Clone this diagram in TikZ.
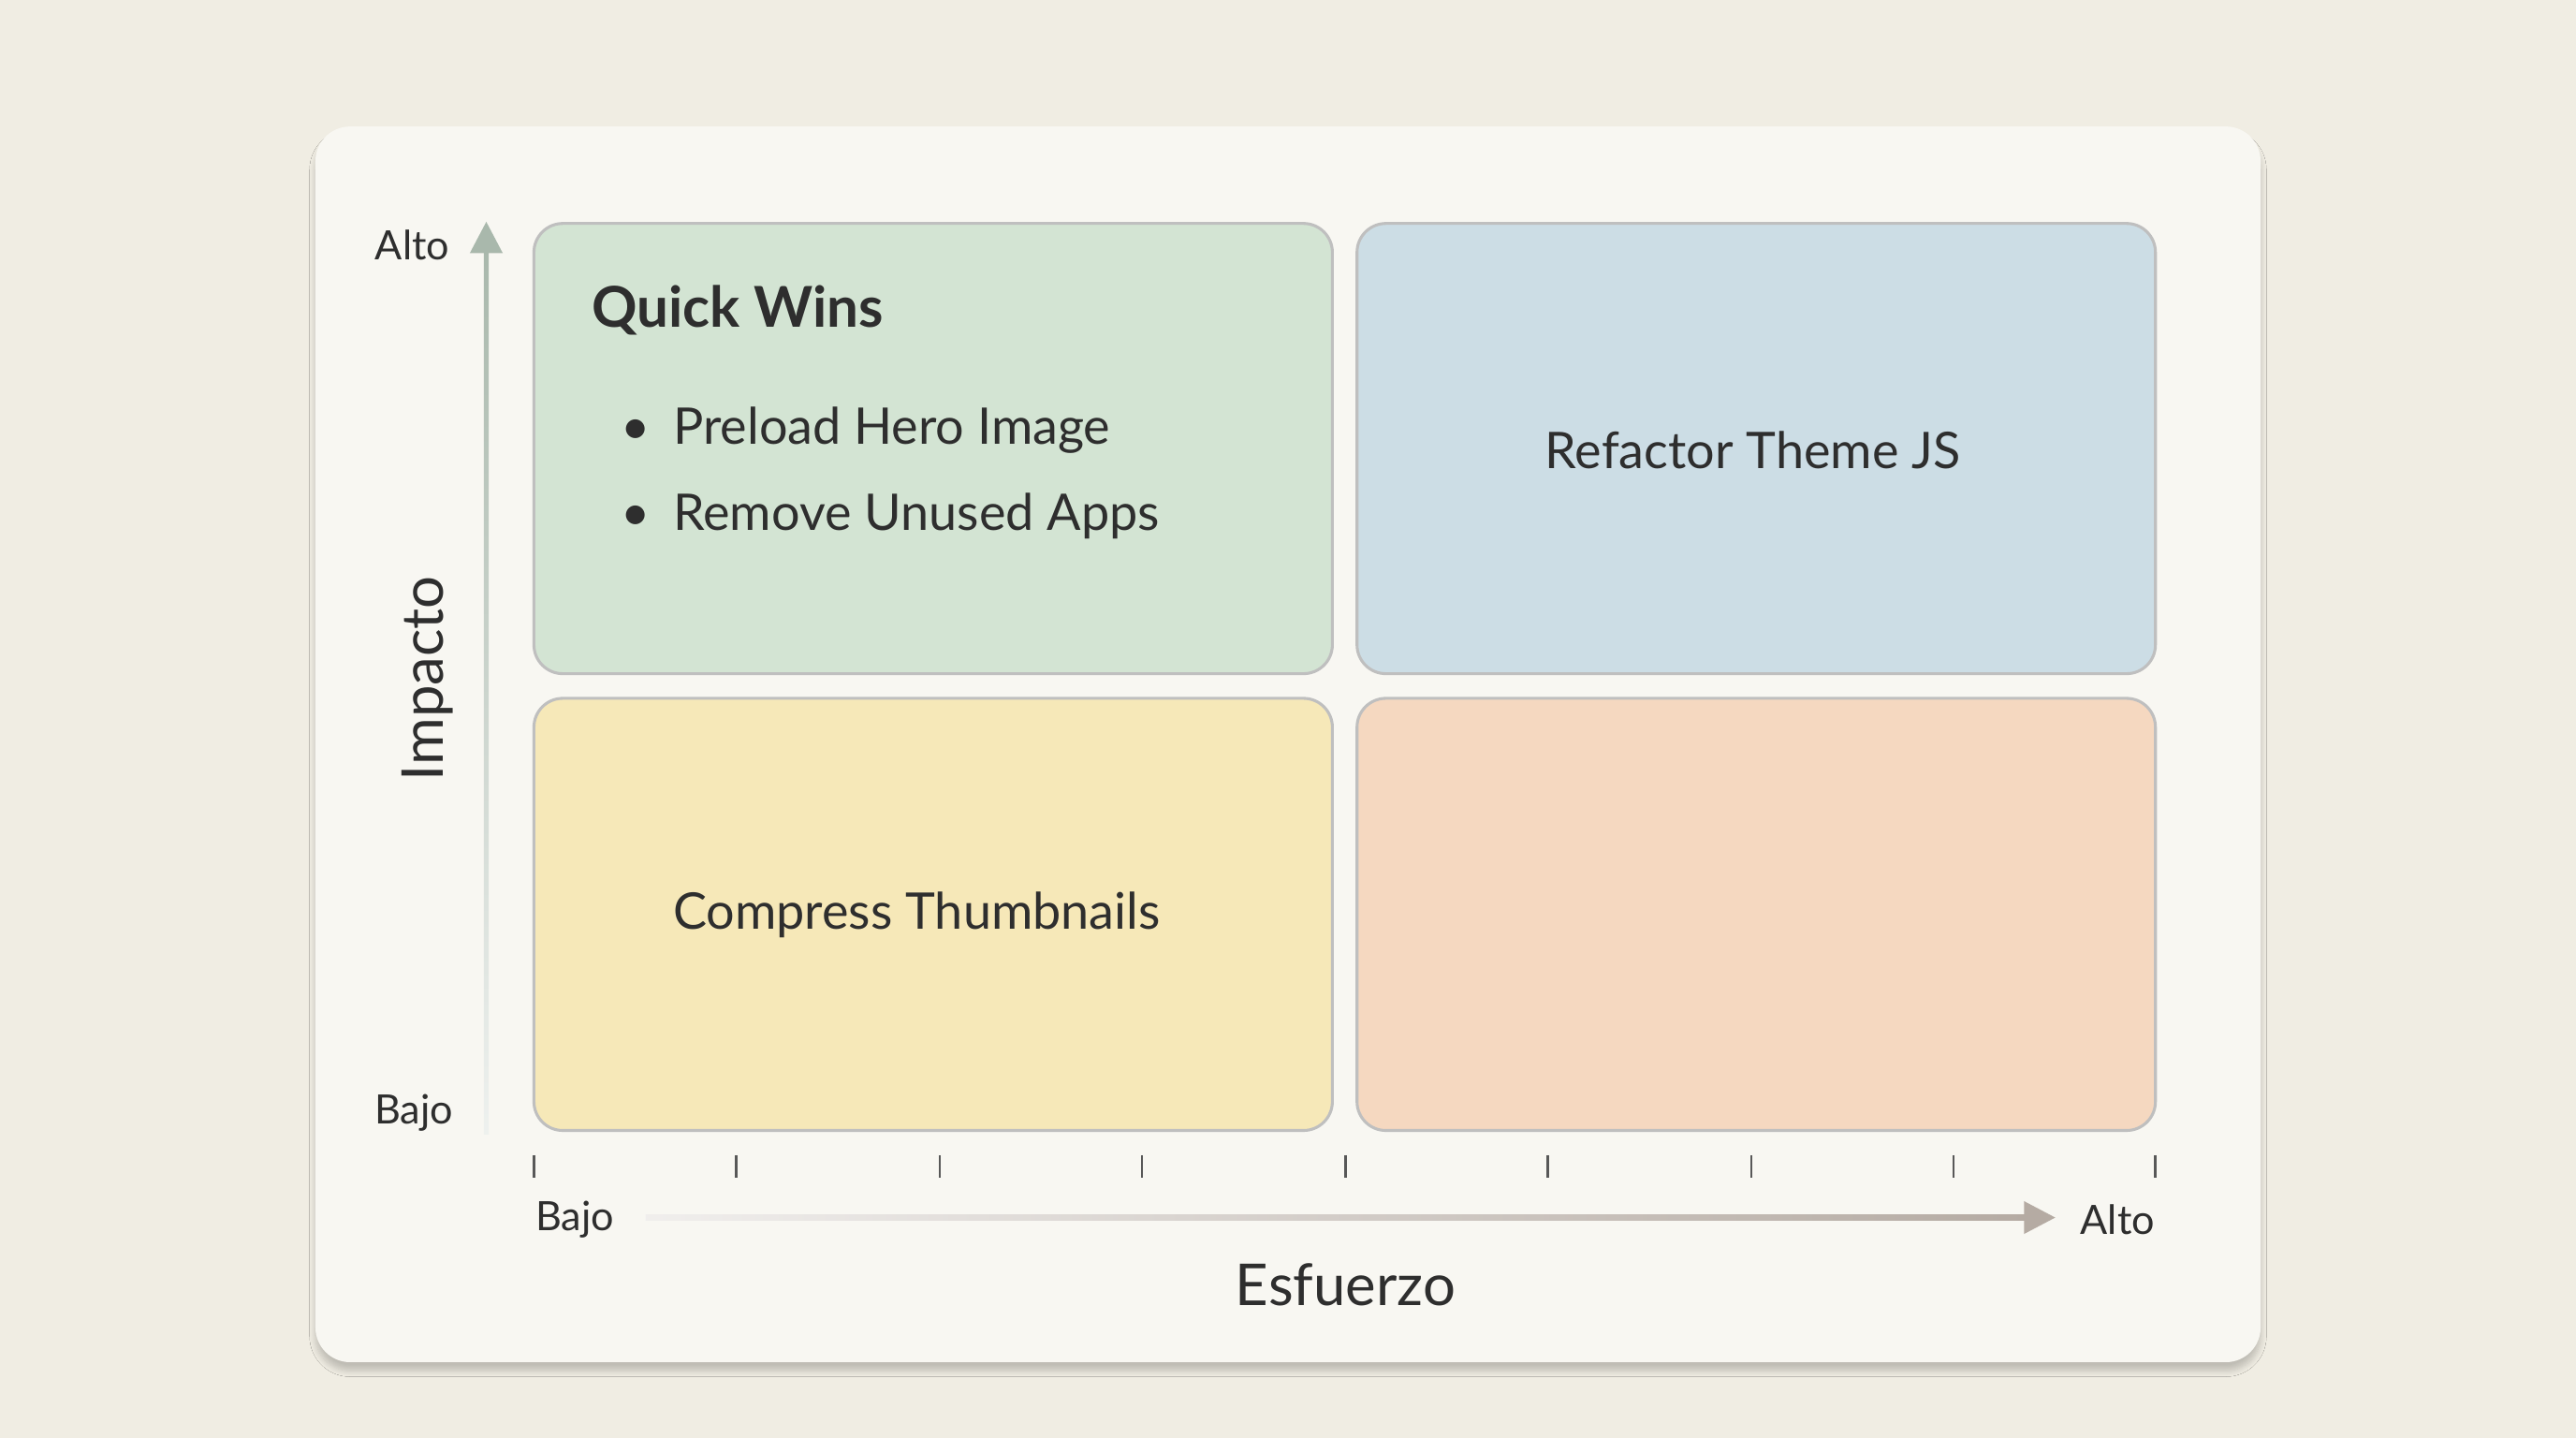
\documentclass[tikz,border=0pt]{standalone}
\usepackage{fontspec}
\setmainfont{Lato}
\usetikzlibrary{arrows.meta,shadows.blur}
\definecolor{bg}{HTML}{F0EDE3}
\definecolor{card}{HTML}{F8F7F2}
\definecolor{qg}{HTML}{D3E4D3}
\definecolor{qb}{HTML}{CCDDE5}
\definecolor{qy}{HTML}{F6E8B8}
\definecolor{qo}{HTML}{F5D8C0}
\definecolor{ink}{HTML}{2E2E2E}
\definecolor{axg}{HTML}{A9B8AC}
\definecolor{axb}{HTML}{B5ABA3}
\tikzset{quad/.style={draw=black!25,line width=1pt,rounded corners=10pt},
 lab/.style={text=ink,font=\fontsize{14}{16}\selectfont},
 body/.style={text=ink,font=\fontsize{17.5}{20}\selectfont},
 tick/.style={draw=ink!80,line width=0.8pt}}
\begin{document}
\begin{tikzpicture}[x=0.02cm,y=-0.02cm]
\fill[bg] (0,0) rectangle (1568,875);
\useasboundingbox (0,0) rectangle (1568,875);
\node[fill=card,rounded corners=12pt,minimum width=1184*0.02cm,minimum height=752*0.02cm,blur shadow={shadow blur steps=8,shadow xshift=0pt,shadow yshift=-3pt,shadow opacity=20}] (card) at (784,453) {};
\node[quad,fill=qg,minimum width=486*0.02cm,minimum height=274*0.02cm] (q1) at (568,273) {};
\node[quad,fill=qb,minimum width=486*0.02cm,minimum height=274*0.02cm] (q2) at (1069,273) {};
\node[quad,fill=qy,minimum width=486*0.02cm,minimum height=263*0.02cm] (q3) at (568,556.5) {};
\node[quad,fill=qo,minimum width=486*0.02cm,minimum height=263*0.02cm] (q4) at (1069,556.5) {};
\node[anchor=west,text=ink,font=\bfseries\fontsize{19.5}{22}\selectfont] (qw) at (354,189) {Quick Wins};
\node[anchor=west,body] (b1) at (372,262) {\textbullet\hspace{0.45em}Preload Hero Image};
\node[anchor=west,body] (b2) at (372,314) {\textbullet\hspace{0.45em}Remove Unused Apps};
\node[body] (t2) at (1067,274) {Refactor Theme JS};
\node[body] (t3) at (558,557) {Compress Thumbnails};
\shade[top color=axg,bottom color=axg!20] (294.5,150) rectangle (297.5,690);
\fill[axg] (286,154) -- (296,135) -- (306,154) -- cycle;
\node[lab] (alto) at (251,149) {Alto};
\node[lab] (bajo) at (252,677) {Bajo};
\node[rotate=90,text=ink,font=\fontsize{20}{22}\selectfont] (imp) at (260,413) {Impacto};
\foreach \x in {325,448,572,695,819,942,1066,1189,1312}{\draw[tick] (\x,703) -- (\x,717);}
\shade[left color=axb!20,right color=axb] (393,739.5) rectangle (1234,742.5);
\fill[axb] (1232,731) -- (1251,741) -- (1232,751) -- cycle;
\node[lab] (xb) at (350,742) {Bajo};
\node[lab] (xa) at (1289,742) {Alto};
\node[text=ink,font=\fontsize{20}{22}\selectfont] (esf) at (819,782) {Esfuerzo};
\end{tikzpicture}
\end{document}
